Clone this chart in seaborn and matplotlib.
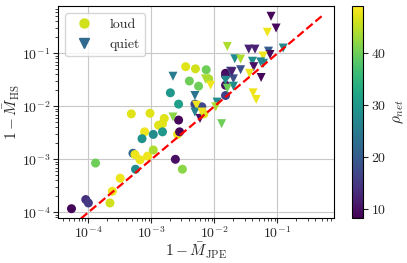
import numpy as np
import pandas as pd
import matplotlib
matplotlib.use("Agg")
import matplotlib.pyplot as plt
from matplotlib.lines import Line2D
import seaborn as sns

# loud events (circles)
loud_x = [4.8e-4, 9.5e-4, 7.8e-4, 1.07e-3, 7.1e-4, 1.3e-3, 5.1e-4, 5.5e-4, 6.6e-4, 8.7e-4,
          1.07e-3, 1.3e-4, 5.6e-4, 3.2e-4, 2.4e-4, 2.2e-4, 9.1e-5, 1.0e-4, 5.4e-5, 2.4e-3,
          3.1e-3, 2.6e-3, 2.8e-3, 3.5e-3, 5.0e-3, 4.0e-3, 2.0e-3, 2.7e-3, 5.6e-3, 8.1e-3,
          1.5e-2, 1.5e-2, 4.9e-3, 2.7e-3, 1.6e-3, 1.5e-3, 1.5e-3, 6.3e-3, 6.8e-3, 1.5e-2,
          7.4e-3, 1.5e-2]
loud_y = [7.2e-3, 7.4e-3, 3.3e-3, 2.95e-3, 2.45e-3, 4.4e-3, 1.3e-3, 1.23e-3, 9.8e-4, 1.15e-3,
          1.5e-3, 8.5e-4, 6.5e-4, 4.4e-4, 2.5e-4, 1.5e-4, 1.74e-4, 1.5e-4, 1.17e-4, 1.0e-3,
          6.5e-4, 2.95e-3, 3.3e-3, 5.6e-2, 5.1e-2, 3.0e-2, 1.8e-2, 1.1e-2, 2.4e-2, 3.3e-2,
          4.2e-2, 1.6e-2, 1.1e-2, 5.5e-3, 5.9e-3, 4.7e-3, 3.3e-3, 9.8e-3, 7.2e-3, 3.8e-2,
          4.9e-2, 2.5e-2]
loud_rho = [47, 47, 48, 28, 29, 47, 22, 48, 48, 48,
            44, 40, 28, 48, 48, 46, 14, 15, 9, 10,
            42, 48, 9, 47, 46, 40, 30, 31, 40, 44,
            9, 16, 17, 9, 47, 47, 30, 17, 47, 10,
            40, 10]

# quiet events (triangles)
quiet_x = [7.9e-2, 9.5e-2, 6.9e-2, 1.6e-2, 3.5e-2, 4.4e-2, 7.2e-2, 7.6e-2, 0.123, 2.1e-2,
           2.6e-2, 4.0e-2, 5.9e-2, 6.0e-2, 5.4e-2, 4.2e-2, 3.6e-2, 2.6e-2, 1.8e-2, 5.5e-2,
           2.0e-2, 1.5e-2, 2.0e-2, 1.6e-2, 4.1e-2, 4.6e-2, 2.2e-3, 4.9e-3, 7.2e-3, 8.7e-3,
           1.9e-2, 1.1e-2, 1.05e-2, 1.3e-2, 5.2e-3, 4.9e-3, 5.9e-3, 6.3e-3, 2.2e-3]
quiet_y = [0.50, 0.30, 0.25, 0.135, 0.12, 0.12, 0.11, 9.5e-2, 0.126, 7.9e-2,
           7.8e-2, 7.1e-2, 8.9e-2, 6.5e-2, 6.9e-2, 5.6e-2, 4.2e-2, 4.9e-2, 4.6e-2, 3.5e-2,
           3.3e-2, 3.1e-2, 2.4e-2, 2.2e-2, 1.8e-2, 1.35e-2, 3.7e-2, 1.6e-2, 3.3e-2, 2.5e-2,
           4.5e-2, 1.2e-2, 9.8e-3, 4.7e-3, 1.05e-2, 7.8e-3, 5.9e-3, 7.8e-3, 6.3e-3]
quiet_rho = [9, 9, 48, 44, 12, 12, 20, 9, 28, 28,
             44, 28, 48, 28, 27, 10, 48, 18, 18, 9,
             18, 28, 28, 40, 48, 48, 25, 24, 44, 48,
             12, 28, 44, 40, 48, 26, 10, 48, 42]

rho_min, rho_max = 8.3, 49.0
diag = [1e-5, 0.5]

df = pd.DataFrame({
    "x": loud_x + quiet_x,
    "y": loud_y + quiet_y,
    "rho": loud_rho + quiet_rho,
    "kind": ["loud"] * len(loud_x) + ["quiet"] * len(quiet_x),
})

sns.set_style("ticks", {"axes.grid": True, "grid.color": "#c8c8c8"})
plt.rcParams["font.family"] = "serif"
plt.rcParams["font.serif"] = ["cmr10"]
plt.rcParams["mathtext.fontset"] = "cm"
plt.rcParams["axes.formatter.use_mathtext"] = True
plt.rcParams["axes.unicode_minus"] = False

fig = plt.figure(figsize=(4.07, 2.63), dpi=100)
ax = fig.add_axes([0.1425, 0.171, 0.6775, 0.806])
cax = fig.add_axes([0.865, 0.171, 0.027, 0.806])

sns.scatterplot(data=df, x="x", y="y", hue="rho", style="kind",
                markers={"loud": "o", "quiet": "v"}, palette="viridis",
                hue_norm=(rho_min, rho_max), s=42, linewidth=0,
                legend=False, ax=ax, zorder=3)
ax.plot(diag, diag, color="red", linestyle="--", linewidth=1.6, zorder=4)

ax.set_xscale("log")
ax.set_yscale("log")
ax.set_xlim(3.3e-5, 0.78)
ax.set_ylim(7.8e-5, 0.78)
ax.set_xlabel(r"$1-\bar{M}_{\rm JPE}$", fontsize=11, labelpad=0)
ax.set_ylabel(r"$1-\bar{M}_{\rm HS}$", fontsize=11, labelpad=0)
ax.tick_params(labelsize=10, pad=2)
for sp in ax.spines.values():
    sp.set_color("black")

cmap = plt.get_cmap("viridis")
norm = plt.Normalize(rho_min, rho_max)
handles = [
    Line2D([], [], marker="o", linestyle="", color=cmap(norm(46)), markersize=6.5),
    Line2D([], [], marker="v", linestyle="", color=cmap(norm(22)), markersize=6.5),
]
ax.legend(handles, ["loud", "quiet"], loc="upper left", fontsize=10,
          frameon=True, framealpha=0.8)

sm = plt.cm.ScalarMappable(cmap=cmap, norm=norm)
cb = fig.colorbar(sm, cax=cax)
cb.set_ticks([10, 20, 30, 40])
cb.ax.tick_params(labelsize=10, pad=2)
cb.set_label(r"$\rho_{net}$", fontsize=11)
cb.outline.set_edgecolor("black")

fig.savefig("out.png", dpi=100)
